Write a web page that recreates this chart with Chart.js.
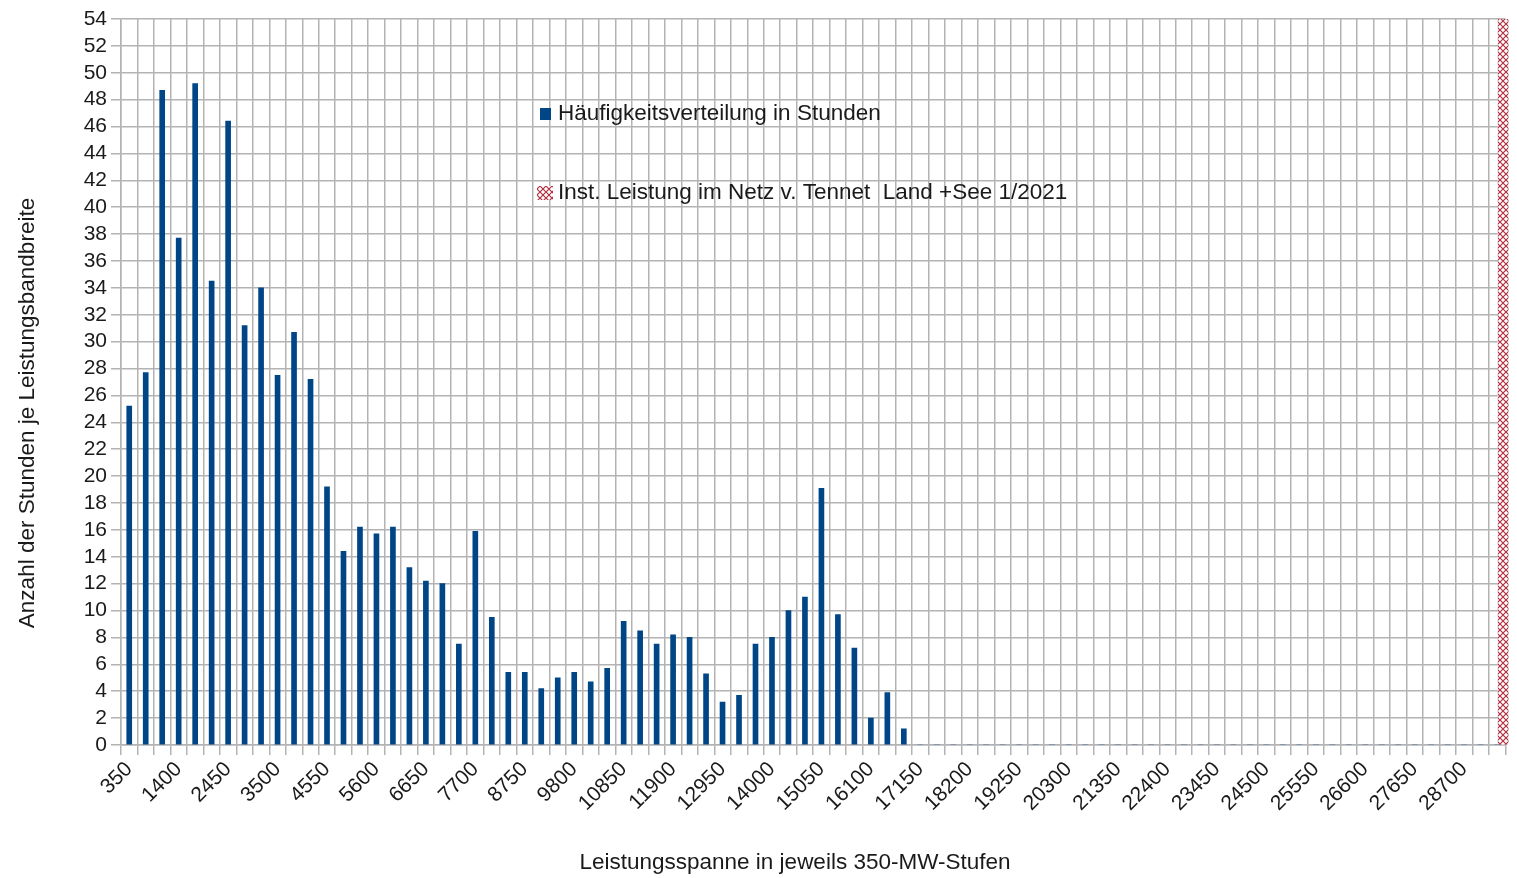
<!DOCTYPE html>
<html>
<head>
<meta charset="utf-8">
<script src="https://cdn.jsdelivr.net/npm/chart.js@4/dist/chart.umd.min.js"></script>
<style>
  html, body { margin: 0; padding: 0; background: #fff; }
  #wrap { width: 1517px; height: 878px; position: relative; }
</style>
</head>
<body>
<div id="wrap"><canvas id="chart" width="1517" height="878"></canvas></div>
<script>
// Leistungsspanne (MW), Stufen zu je 350 MW
const stufen = [
  350, 700, 1050, 1400, 1750, 2100, 2450, 2800, 3150, 3500, 3850, 4200,
  4550, 4900, 5250, 5600, 5950, 6300, 6650, 7000, 7350, 7700, 8050, 8400,
  8750, 9100, 9450, 9800, 10150, 10500, 10850, 11200, 11550, 11900, 12250, 12600,
  12950, 13300, 13650, 14000, 14350, 14700, 15050, 15400, 15750, 16100, 16450, 16800,
  17150, 17500, 17850, 18200, 18550, 18900, 19250, 19600, 19950, 20300, 20650, 21000,
  21350, 21700, 22050, 22400, 22750, 23100, 23450, 23800, 24150, 24500, 24850, 25200,
  25550, 25900, 26250, 26600, 26950, 27300, 27650, 28000, 28350, 28700, 29050, 29400
];

// Häufigkeit in Stunden je Stufe
const stunden = [
  25.2, 27.7, 48.7, 37.7, 49.2, 34.5, 46.4, 31.2, 34.0, 27.5, 30.7, 27.2,
  19.2, 14.4, 16.2, 15.7, 16.2, 13.2, 12.2, 12.0, 7.5, 15.9, 9.5, 5.4,
  5.4, 4.2, 5.0, 5.4, 4.7, 5.7, 9.2, 8.5, 7.5, 8.2, 8.0, 5.3,
  3.2, 3.7, 7.5, 8.0, 10.0, 11.0, 19.1, 9.7, 7.2, 2.0, 3.9, 1.2,
  0, 0, 0, 0, 0, 0, 0, 0, 0, 0, 0, 0,
  0, 0, 0, 0, 0, 0, 0, 0, 0, 0, 0, 0,
  0, 0, 0, 0, 0, 0, 0, 0, 0, 0, 0, 0
];

// installierte Leistung (Marker über die ganze Höhe)
const instLeistung = [{ x: 29400, y: 54 }];

const yMax = 54;
const yStep = 2;

const xTitel = "Leistungsspanne in jeweils 350-MW-Stufen";
const yTitel = "Anzahl der Stunden je Leistungsbandbreite";

const blau = "#004586";
const rot = "#b0303f";
const gitter = "#b3b3b3";
const textFarbe = "#1a1a1a";
const schrift = "'Liberation Sans', Arial, sans-serif";

// Schraffur für die installierte Leistung
function makeHatch() {
  const c = document.createElement("canvas");
  c.width = 6; c.height = 6;
  const g = c.getContext("2d");
  g.fillStyle = "#fff";
  g.fillRect(0, 0, 6, 6);
  g.strokeStyle = rot;
  g.lineWidth = 1.2;
  g.beginPath();
  g.moveTo(0, 0); g.lineTo(6, 6);
  g.moveTo(6, 0); g.lineTo(0, 6);
  g.stroke();
  return g.createPattern(c, "repeat");
}
const hatch = makeHatch();

// rote Säule sitzt im Original etwas nach rechts versetzt
const shiftPlugin = {
  id: "shiftInst",
  beforeDatasetDraw(chart, args) {
    if (args.index === 1) { chart.ctx.save(); chart.ctx.translate(6, 0); }
  },
  afterDatasetDraw(chart, args) {
    if (args.index === 1) chart.ctx.restore();
  }
};

// Legende und Achsentitel wie im Original platziert
const textPlugin = {
  id: "texte",
  afterDraw(chart) {
    const ctx = chart.ctx;
    ctx.save();
    ctx.font = "22.5px " + schrift;
    ctx.textBaseline = "middle";

    ctx.fillStyle = blau;
    ctx.fillRect(540, 108, 11, 12);
    ctx.fillStyle = textFarbe;
    ctx.fillText("Häufigkeitsverteilung in Stunden", 558, 114);

    ctx.fillStyle = hatch;
    ctx.fillRect(537, 186, 16, 14);
    ctx.fillStyle = textFarbe;
    ctx.fillText("Inst. Leistung im Netz v. Tennet  Land +See 1/2021", 558, 193);

    ctx.textAlign = "center";
    ctx.fillText(xTitel, 795, 863);

    ctx.translate(28, 413);
    ctx.rotate(-Math.PI / 2);
    ctx.fillText(yTitel, 0, 0);
    ctx.restore();
  }
};

const ctx = document.getElementById("chart").getContext("2d");
new Chart(ctx, {
  type: "bar",
  data: {
    labels: stufen,
    datasets: [
      {
        label: "Häufigkeitsverteilung in Stunden",
        data: stunden,
        backgroundColor: blau,
        barThickness: 5,
        grouped: false
      },
      {
        label: "Inst. Leistung im Netz v. Tennet  Land +See 1/2021",
        data: instLeistung,
        backgroundColor: hatch,
        barThickness: 10,
        grouped: false
      }
    ]
  },
  options: {
    responsive: false,
    animation: false,
    devicePixelRatio: 1,
    layout: { padding: { left: 0, right: 9, top: 19, bottom: 0 } },
    plugins: {
      legend: { display: false },
      tooltip: { enabled: false }
    },
    scales: {
      x: {
        grid: { color: gitter, lineWidth: 1.5, offset: true, tickLength: 10 },
        border: { color: gitter, width: 1.5 },
        ticks: {
          autoSkip: false,
          maxRotation: 45,
          minRotation: 45,
          padding: 2,
          color: textFarbe,
          font: { family: schrift, size: 21 },
          callback: function(value, index) {
            return index % 3 === 0 ? this.getLabelForValue(value) : "";
          }
        },
        afterFit(scale) { scale.height = 133; }
      },
      y: {
        min: 0,
        max: yMax,
        grid: { color: gitter, lineWidth: 1.5, tickLength: 10 },
        border: { color: gitter, width: 1.5 },
        ticks: {
          stepSize: yStep,
          autoSkip: false,
          padding: 4,
          color: textFarbe,
          font: { family: schrift, size: 21 }
        },
        afterFit(scale) { scale.width = 121; }
      }
    }
  },
  plugins: [shiftPlugin, textPlugin]
});
</script>
</body>
</html>
